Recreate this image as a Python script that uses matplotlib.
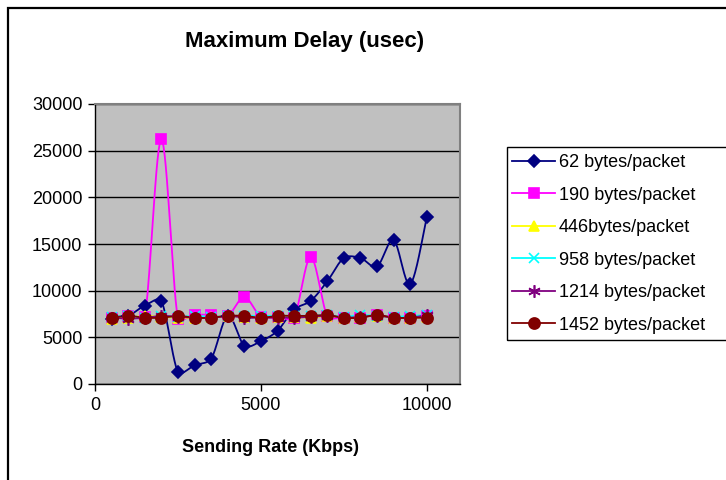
import numpy as np
import matplotlib
matplotlib.use("Agg")
import matplotlib.pyplot as plt
from matplotlib.patches import Rectangle

plt.rcParams['font.family'] = ['Liberation Sans', 'DejaVu Sans']

rates = [500, 1000, 1500, 2000, 2500, 3000, 3500, 4000, 4500, 5000,
         5500, 6000, 6500, 7000, 7500, 8000, 8500, 9000, 9500, 10000]

d62 = [7000, 7300, 8400, 8900, 1300, 2000, 2700, 7300, 4100, 4600,
       5700, 8000, 8900, 11000, 13500, 13500, 12600, 15400, 10700, 17900]
d190 = [7100, 7300, 7200, 26200, 7000, 7400, 7400, 7300, 9300, 7200,
        7200, 7100, 13600, 7300, 7100, 7100, 7400, 7100, 7100, 7300]
d446 = [7000, 7100, 7300, 7200, 7100, 7100, 7200, 7300, 7200, 7100,
        7200, 7200, 7100, 7300, 7100, 7200, 7300, 7100, 7100, 7200]
d958 = [7200, 7300, 7100, 7300, 7200, 7300, 7200, 7300, 7300, 7300,
        7300, 7300, 7300, 7400, 7200, 7400, 7300, 7200, 7300, 7400]
d1214 = [7100, 7000, 7100, 7300, 7200, 7100, 7100, 7300, 7100, 7100,
         7100, 7100, 7200, 7300, 7100, 7200, 7300, 7100, 7100, 7400]
d1452 = [7100, 7300, 7100, 7100, 7300, 7100, 7100, 7300, 7300, 7100,
         7300, 7300, 7300, 7400, 7100, 7100, 7400, 7100, 7100, 7100]

labels = ["62 bytes/packet", "190 bytes/packet", "446bytes/packet",
          "958 bytes/packet", "1214 bytes/packet", "1452 bytes/packet"]
series = [d62, d190, d446, d958, d1214, d1452]
colors = ["#000080", "#FF00FF", "#FFFF00", "#00FFFF", "#800080", "#800000"]
markers = ["D", "s", "^", "x", (6, 2, 0), "o"]
msizes = [6.5, 7.5, 7.5, 7.5, 9, 8]

yticks = [0, 5000, 10000, 15000, 20000, 25000, 30000]
xticks = [0, 5000, 10000]

W, H = 726, 480
XMAX, YMAX = 11000, 30000
AX_W, AX_H = 365, 280


def smooth(x, y, n=30):
    # Bezier smoothing in screen space with clamped control arms
    px = np.asarray(x, float) * AX_W / XMAX
    py = np.asarray(y, float) * AX_H / YMAX
    P = np.column_stack([px, py])
    m = len(P)
    tang = []
    for i in range(m):
        a = P[i - 1] if i > 0 else P[i]
        b = P[i + 1] if i < m - 1 else P[i]
        tang.append((b - a) / 6.0)
    out = []
    t = np.linspace(0, 1, n, endpoint=False)[:, None]

    def arm(T, seg):
        L = np.hypot(*T)
        lim = seg / 3.0
        if L > lim and L > 0:
            return T * lim / L
        return T

    for i in range(m - 1):
        p1, p2 = P[i], P[i + 1]
        seg = np.hypot(*(p2 - p1))
        c1 = p1 + arm(tang[i], seg)
        c2 = p2 - arm(tang[i + 1], seg)
        pts = (1 - t) ** 3 * p1 + 3 * (1 - t) ** 2 * t * c1 + 3 * (1 - t) * t ** 2 * c2 + t ** 3 * p2
        out.append(pts)
    out.append(P[-1][None, :])
    out = np.vstack(out)
    return out[:, 0] * XMAX / AX_W, out[:, 1] * YMAX / AX_H


fig = plt.figure(figsize=(W / 100, H / 100), dpi=100)
ax = fig.add_axes([95 / W, 1 - 384 / H, AX_W / W, AX_H / H])
ax.set_facecolor("#C0C0C0")

handles = []
for ys, c, m, ms, lab in zip(series, colors, markers, msizes, labels):
    sx, sy = smooth(rates, ys)
    ax.plot(sx, sy, color=c, lw=1.3, zorder=3)
    ax.plot(rates, ys, linestyle="none", marker=m, markersize=ms, color=c,
            markeredgecolor=c, markeredgewidth=1.2, zorder=4)
    h, = ax.plot([], [], color=c, lw=1.3, marker=m, markersize=ms,
                 markeredgecolor=c, markeredgewidth=1.2)
    handles.append(h)

ax.set_xlim(0, XMAX)
ax.set_ylim(0, YMAX)
ax.set_xticks(xticks)
ax.set_yticks(yticks)
ax.set_xticklabels([str(v) for v in xticks], fontsize=13)
ax.set_yticklabels([str(v) for v in yticks], fontsize=13)
ax.tick_params(direction="out", length=5, width=1, color="black", pad=4)
ax.yaxis.grid(True, color="black", lw=1)
ax.set_axisbelow(True)
for s in ["top", "right"]:
    ax.spines[s].set_color("#808080")
    ax.spines[s].set_linewidth(1.5)
for s in ["left", "bottom"]:
    ax.spines[s].set_color("black")
    ax.spines[s].set_linewidth(1)

fig.text(305 / W, 1 - 42 / H, "Maximum Delay (usec)", ha="center", va="center",
         fontsize=16, fontweight="bold")
fig.text(270 / W, 1 - 447 / H, "Sending Rate (Kbps)", ha="center", va="center",
         fontsize=13, fontweight="bold")

# outer chart border
fig.patches.append(Rectangle((8 / W, -0.05), 1.0, 1 - 8 / H + 0.05,
                             transform=fig.transFigure, fill=False,
                             edgecolor="black", lw=1.6))
# legend box
fig.patches.append(Rectangle((507 / W, 1 - 340 / H), 0.5, (340 - 147) / H,
                             transform=fig.transFigure, fill=False,
                             edgecolor="black", lw=1.0))
fig.legend(handles, labels, loc="upper left",
           bbox_to_anchor=(512 / W, 1 - 154 / H), frameon=False,
           fontsize=13, handlelength=2.4, handletextpad=0.2,
           labelspacing=0.86, borderpad=0, borderaxespad=0)

fig.savefig("out.png", dpi=100)
